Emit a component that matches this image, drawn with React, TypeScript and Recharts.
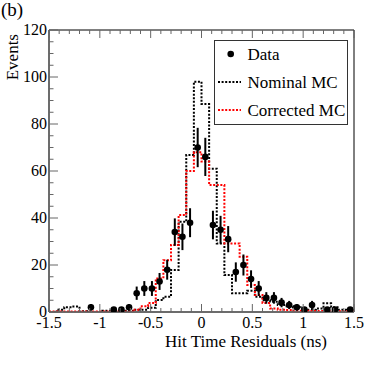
import React from 'react';
import { ComposedChart, Line, Scatter, ErrorBar, XAxis, YAxis, ReferenceArea, Legend } from 'recharts';

// ---- data (40 bins of 0.075 ns from -1.5 to 1.5) ----
const binLow = -1.5;
const binWidth = 0.075;

const nominalMC = [0, 1, 2, 2.3, 0.3, 0, 0, 0.5, 0, 0.3, 0.5, 1, 1, 1.8, 5.1, 6.5, 17.9, 38.4, 66.8, 98, 88.5, 61, 29.2, 15.7, 8, 8, 9, 6.5, 5, 4.4, 3, 2.5, 2, 1.5, 1, 1.5, 3.7, 2, 1, 0.8];
const correctedMC = [0.2, 0.2, 0.2, 0.2, 0.2, 0.2, 0.2, 0.2, 0.2, 0.2, 0.2, 1, 2.5, 3.8, 14.3, 22, 28.5, 41.3, 60, 68, 64, 54, 54, 29.2, 29.2, 23.5, 11.5, 7.2, 3.8, 1.5, 1, 0.8, 0.5, 0.5, 0.4, 0.4, 0.4, 0.3, 0.3, 0.3];
const dataCounts = [0, 0, 0, 0, 0, 2, 0, 0, 1, 1, 2, 8, 10, 10, 13, 18, 34, 32, 38, 70, 66, 37, 35, 31, 17, 20, 14, 10, 6, 6, 4, 3, 2, 1, 3, 0, 1, 1, 0, 1];
const dataErrors = [0, 0, 0, 0, 0, 1.41, 0, 0, 1, 1, 1.41, 2.83, 3.16, 3.16, 3.61, 4.24, 5.83, 5.66, 6.16, 8.37, 8.12, 6.08, 5.92, 5.57, 4.12, 4.47, 3.74, 3.16, 2.45, 2.45, 2, 1.73, 1.41, 1, 1.73, 0, 1, 1, 0, 1];

const xTicks = [-1.5, -1.4, -1.3, -1.2, -1.1, -1, -0.9, -0.8, -0.7, -0.6, -0.5, -0.4, -0.3, -0.2, -0.1, 0, 0.1, 0.2, 0.3, 0.4, 0.5, 0.6, 0.7, 0.8, 0.9, 1, 1.1, 1.2, 1.3, 1.4, 1.5];
const xMajorTicks = [-1.5, -1, -0.5, 0, 0.5, 1, 1.5];
const xMajorLabels = ['-1.5', '-1', '-0.5', '0', '0.5', '1', '1.5'];
const yTicks = [0, 5, 10, 15, 20, 25, 30, 35, 40, 45, 50, 55, 60, 65, 70, 75, 80, 85, 90, 95, 100, 105, 110, 115, 120];
const yMajorTicks = [0, 20, 40, 60, 80, 100, 120];

const seriesNames = { data: 'Data', nominal: 'Nominal MC', corrected: 'Corrected MC' };

// ---- layout ----
const W = 374;
const H = 370;
const MARGIN = { top: 30, right: 20, bottom: 0, left: 0 };
const Y_AXIS_W = 49;
const X_AXIS_H = 58;
const PLOT_H = H - MARGIN.top - MARGIN.bottom - X_AXIS_H;
const FONT = '"Liberation Serif", "Times New Roman", serif';
const AXIS_COLOR = '#666';
const DOT = '2 1.6';

const stepSeries = (vals: number[]) => {
  const pts = vals.map((v, i) => ({ x: binLow + i * binWidth, y: v }));
  pts.push({ x: binLow + vals.length * binWidth, y: vals[vals.length - 1] });
  return pts;
};

const nominalData = stepSeries(nominalMC);
const correctedData = stepSeries(correctedMC);
const pointData = dataCounts
  .map((c, i) => ({ x: binLow + (i + 0.5) * binWidth, y: c, err: dataErrors[i] }))
  .filter((p) => p.y > 0);

const isMajor = (v: number, majors: number[]) => majors.some((m) => Math.abs(m - v) < 1e-6);

const XTick = (props: any) => {
  const { x, y, payload } = props;
  const v = payload.value;
  const mi = xMajorTicks.findIndex((m) => Math.abs(m - v) < 1e-6);
  const len = mi >= 0 ? 8 : 4;
  return (
    <g>
      <line x1={x} x2={x} y1={y} y2={y - len} stroke={AXIS_COLOR} strokeWidth={1} />
      <line x1={x} x2={x} y1={y - PLOT_H} y2={y - PLOT_H + len} stroke={AXIS_COLOR} strokeWidth={1} />
      {mi >= 0 && (
        <text x={x} y={y + 16} textAnchor="middle" fontFamily={FONT} fontSize={16} fill="#000">
          {xMajorLabels[mi]}
        </text>
      )}
    </g>
  );
};

const YTick = (props: any) => {
  const { x, y, payload } = props;
  const v = payload.value;
  const major = isMajor(v, yMajorTicks);
  const len = major ? 9 : 4.5;
  return (
    <g>
      <line x1={x} x2={x + len} y1={y} y2={y} stroke={AXIS_COLOR} strokeWidth={1} />
      {major && (
        <text x={x - 2} y={y + 4.5} textAnchor="end" fontFamily={FONT} fontSize={16} fill="#000">
          {v}
        </text>
      )}
    </g>
  );
};

const xTitle = (props: any) => {
  const vb = props.viewBox;
  return (
    <text x={vb.x + vb.width - 27} y={vb.y + 35} textAnchor="end" fontFamily={FONT} fontSize={17} fill="#000">
      Hit Time Residuals (ns)
    </text>
  );
};

const yTitle = (props: any) => {
  const vb = props.viewBox;
  const x = vb.x + 18;
  const y = vb.y + 4;
  return (
    <text x={x} y={y} transform={`rotate(-90, ${x}, ${y})`} textAnchor="end" fontFamily={FONT} fontSize={17} fill="#000">
      Events
    </text>
  );
};

const LegendBox = () => {
  const rows = [
    { name: seriesNames.data, kind: 'dot', color: '#000' },
    { name: seriesNames.nominal, kind: 'line', color: '#000' },
    { name: seriesNames.corrected, kind: 'line', color: '#ff0000' },
  ];
  return (
    <svg width={134} height={85} style={{ display: 'block' }}>
      <rect x={0.5} y={0.5} width={133} height={84} fill="#fff" stroke="#333" strokeWidth={1} />
      {rows.map((r, i) => {
        const cy = 14 + i * 28;
        return (
          <g key={r.name}>
            {r.kind === 'dot' ? (
              <circle cx={16.7} cy={cy} r={3.3} fill={r.color} />
            ) : (
              <line x1={4} x2={27} y1={cy} y2={cy} stroke={r.color} strokeWidth={2} strokeDasharray={DOT} />
            )}
            <text x={33.5} y={cy + 6} fontFamily={FONT} fontSize={17} fill="#000">
              {r.name}
            </text>
          </g>
        );
      })}
    </svg>
  );
};

const DataDot = (props: any) => {
  const { cx, cy } = props;
  return <circle cx={cx} cy={cy} r={3.3} fill="#000" />;
};

export default function App() {
  return (
    <div style={{ position: 'absolute', left: 0, top: 0, width: W, height: H, background: '#fff' }}>
      <svg style={{ position: 'absolute', left: 0, top: 0 }} width={40} height={24}>
        <text x={1} y={16} fontFamily={FONT} fontSize={19} fill="#000">(b)</text>
      </svg>
      <ComposedChart width={W} height={H} margin={MARGIN}>
        <XAxis
          dataKey="x"
          type="number"
          domain={[-1.5, 1.5]}
          allowDataOverflow
          ticks={xTicks}
          interval={0}
          tickSize={0}
          tickMargin={0}
          tick={<XTick />}
          height={X_AXIS_H}
          axisLine={{ stroke: AXIS_COLOR, strokeWidth: 1.5 }}
          label={xTitle}
        />
        <YAxis
          type="number"
          domain={[0, 120]}
          allowDataOverflow
          ticks={yTicks}
          interval={0}
          tickSize={0}
          tickMargin={0}
          tick={<YTick />}
          width={Y_AXIS_W}
          axisLine={{ stroke: AXIS_COLOR, strokeWidth: 1.5 }}
          label={yTitle}
        />
        <ReferenceArea x1={-1.5} x2={1.5} y1={0} y2={120} fill="none" stroke="#000" strokeWidth={1} ifOverflow="visible" />
        <Line
          data={nominalData}
          dataKey="y"
          name={seriesNames.nominal}
          type="stepAfter"
          stroke="#000"
          strokeWidth={2}
          strokeDasharray={DOT}
          dot={false}
          activeDot={false}
          isAnimationActive={false}
        />
        <Line
          data={correctedData}
          dataKey="y"
          name={seriesNames.corrected}
          type="stepAfter"
          stroke="#ff0000"
          strokeWidth={2}
          strokeDasharray={DOT}
          dot={false}
          activeDot={false}
          isAnimationActive={false}
        />
        <Scatter data={pointData} dataKey="y" name={seriesNames.data} shape={<DataDot />} isAnimationActive={false}>
          <ErrorBar dataKey="err" direction="y" width={0} stroke="#000" strokeWidth={2} />
        </Scatter>
        <Legend
          layout="vertical"
          align="center"
          verticalAlign="middle"
          content={<LegendBox />}
          wrapperStyle={{ position: 'absolute', left: 214, top: 40, width: 134, height: 85 }}
        />
      </ComposedChart>
    </div>
  );
}
